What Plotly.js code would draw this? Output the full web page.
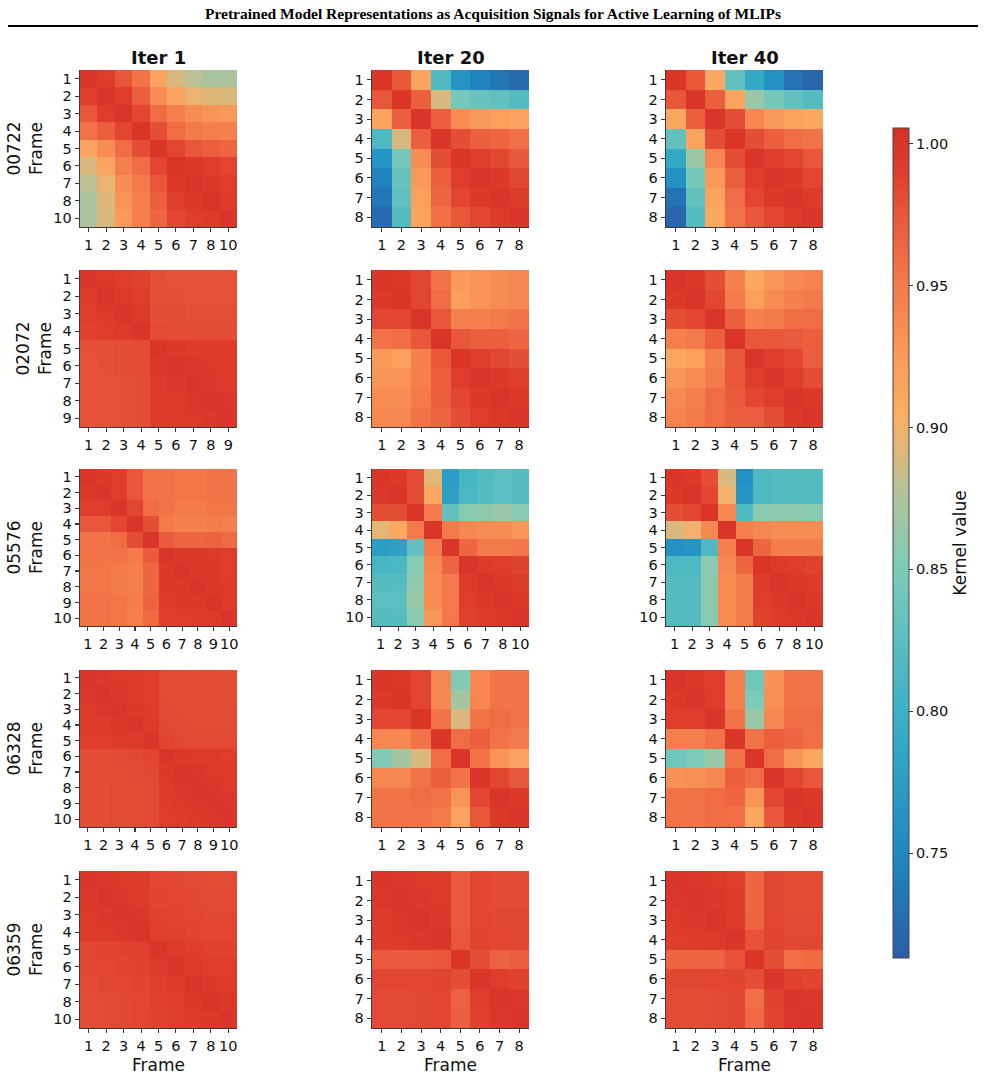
<!DOCTYPE html>
<html>
<head>
<meta charset="utf-8">
<script src="https://cdn.plot.ly/plotly-3.0.1.min.js"></script>
<style>
  html, body { margin: 0; padding: 0; background: #fff; }
  #chart { width: 985px; height: 1075px; }
</style>
</head>
<body>
<div id="chart"></div>
<script>
// ---- Frame labels per system / iteration ----
const samples = ['00722', '02072', '05576', '06328', '06359'];
const iterations = ['Iter 1', 'Iter 20', 'Iter 40'];

const frames_00722_it1 = ['1','2','3','4','5','6','7','8','10'];
const frames_00722_it20 = ['1','2','3','4','5','6','7','8'];
const frames_00722_it40 = ['1','2','3','4','5','6','7','8'];
const frames_02072_it1 = ['1','2','3','4','5','6','7','8','9'];
const frames_02072_it20 = ['1','2','3','4','5','6','7','8'];
const frames_02072_it40 = ['1','2','3','4','5','6','7','8'];
const frames_05576_it1 = ['1','2','3','4','5','6','7','8','9','10'];
const frames_05576_it20 = ['1','2','3','4','5','6','7','8','10'];
const frames_05576_it40 = ['1','2','3','4','5','6','7','8','10'];
const frames_06328_it1 = ['1','2','3','4','5','6','7','8','9','10'];
const frames_06328_it20 = ['1','2','3','4','5','6','7','8'];
const frames_06328_it40 = ['1','2','3','4','5','6','7','8'];
const frames_06359_it1 = ['1','2','3','4','5','6','7','8','10'];
const frames_06359_it20 = ['1','2','3','4','5','6','7','8'];
const frames_06359_it40 = ['1','2','3','4','5','6','7','8'];

// ---- Kernel matrices ----
const kernel_00722_it1 = [
  [1.000,0.990,0.975,0.955,0.915,0.890,0.880,0.872,0.873],
  [0.990,1.000,0.990,0.970,0.935,0.915,0.898,0.892,0.891],
  [0.975,0.990,1.000,0.985,0.960,0.945,0.935,0.930,0.925],
  [0.955,0.970,0.985,1.000,0.980,0.960,0.950,0.945,0.945],
  [0.915,0.935,0.960,0.980,1.000,0.985,0.975,0.970,0.965],
  [0.890,0.915,0.945,0.960,0.985,1.000,0.995,0.990,0.985],
  [0.880,0.898,0.935,0.950,0.975,0.995,1.000,0.995,0.990],
  [0.872,0.892,0.930,0.945,0.970,0.990,0.995,1.000,0.993],
  [0.873,0.891,0.925,0.945,0.965,0.985,0.990,0.993,1.000]
];
const kernel_00722_it20 = [
  [1.000,0.975,0.915,0.815,0.765,0.745,0.735,0.725],
  [0.975,1.000,0.970,0.890,0.845,0.835,0.830,0.820],
  [0.915,0.970,1.000,0.970,0.935,0.925,0.920,0.915],
  [0.815,0.890,0.970,1.000,0.980,0.970,0.965,0.958],
  [0.765,0.845,0.935,0.980,1.000,0.990,0.985,0.975],
  [0.745,0.835,0.925,0.970,0.990,1.000,0.995,0.985],
  [0.735,0.830,0.920,0.965,0.985,0.995,1.000,0.993],
  [0.725,0.820,0.915,0.958,0.975,0.985,0.993,1.000]
];
const kernel_00722_it40 = [
  [1.000,0.975,0.910,0.830,0.790,0.760,0.730,0.720],
  [0.975,1.000,0.970,0.915,0.865,0.845,0.830,0.820],
  [0.910,0.970,1.000,0.980,0.940,0.925,0.915,0.910],
  [0.830,0.915,0.980,1.000,0.980,0.970,0.960,0.955],
  [0.790,0.865,0.940,0.980,1.000,0.990,0.985,0.975],
  [0.760,0.845,0.925,0.970,0.990,1.000,0.995,0.985],
  [0.730,0.830,0.915,0.960,0.985,0.995,1.000,0.993],
  [0.720,0.820,0.910,0.955,0.975,0.985,0.993,1.000]
];
const kernel_02072_it1 = [
  [1.000,0.994,0.991,0.988,0.979,0.978,0.978,0.978,0.978],
  [0.994,1.000,0.994,0.990,0.979,0.979,0.978,0.978,0.978],
  [0.991,0.994,1.000,0.994,0.980,0.980,0.979,0.979,0.979],
  [0.988,0.990,0.994,1.000,0.982,0.981,0.980,0.980,0.980],
  [0.979,0.979,0.980,0.982,1.000,0.995,0.993,0.993,0.992],
  [0.978,0.979,0.980,0.981,0.995,1.000,0.996,0.994,0.993],
  [0.978,0.978,0.979,0.980,0.993,0.996,1.000,0.996,0.994],
  [0.978,0.978,0.979,0.980,0.993,0.994,0.996,1.000,0.996],
  [0.978,0.978,0.979,0.980,0.992,0.993,0.994,0.996,1.000]
];
const kernel_02072_it20 = [
  [1.000,0.995,0.985,0.955,0.925,0.930,0.935,0.940],
  [0.995,1.000,0.985,0.960,0.920,0.930,0.935,0.940],
  [0.985,0.985,1.000,0.975,0.945,0.945,0.950,0.955],
  [0.955,0.960,0.975,1.000,0.975,0.970,0.970,0.965],
  [0.925,0.920,0.945,0.975,1.000,0.990,0.985,0.980],
  [0.930,0.930,0.945,0.970,0.990,1.000,0.995,0.990],
  [0.935,0.935,0.950,0.970,0.985,0.995,1.000,0.995],
  [0.940,0.940,0.955,0.965,0.980,0.990,0.995,1.000]
];
const kernel_02072_it40 = [
  [1.000,0.995,0.980,0.945,0.910,0.928,0.938,0.943],
  [0.995,1.000,0.985,0.950,0.920,0.935,0.945,0.950],
  [0.980,0.985,1.000,0.970,0.945,0.950,0.960,0.960],
  [0.945,0.950,0.970,1.000,0.975,0.975,0.972,0.970],
  [0.910,0.920,0.945,0.975,1.000,0.990,0.985,0.970],
  [0.928,0.935,0.950,0.975,0.990,1.000,0.990,0.980],
  [0.938,0.945,0.960,0.972,0.985,0.990,1.000,0.995],
  [0.943,0.950,0.960,0.970,0.970,0.980,0.995,1.000]
];
const kernel_05576_it1 = [
  [1.000,0.995,0.990,0.975,0.955,0.955,0.953,0.953,0.955,0.955],
  [0.995,1.000,0.990,0.975,0.955,0.955,0.953,0.953,0.955,0.955],
  [0.990,0.990,1.000,0.985,0.960,0.955,0.950,0.950,0.953,0.953],
  [0.975,0.975,0.985,1.000,0.980,0.950,0.945,0.945,0.948,0.945],
  [0.955,0.955,0.960,0.980,1.000,0.972,0.965,0.965,0.968,0.962],
  [0.955,0.955,0.955,0.950,0.972,1.000,0.995,0.995,0.993,0.990],
  [0.953,0.953,0.950,0.945,0.965,0.995,1.000,0.995,0.995,0.990],
  [0.953,0.953,0.950,0.945,0.965,0.995,0.995,1.000,0.995,0.993],
  [0.955,0.955,0.953,0.948,0.968,0.993,0.995,0.995,1.000,0.993],
  [0.955,0.955,0.953,0.945,0.962,0.990,0.990,0.993,0.993,1.000]
];
const kernel_05576_it20 = [
  [1.000,0.995,0.980,0.895,0.775,0.810,0.820,0.825,0.820],
  [0.995,1.000,0.980,0.910,0.780,0.812,0.822,0.825,0.822],
  [0.980,0.980,1.000,0.950,0.830,0.855,0.860,0.865,0.855],
  [0.895,0.910,0.950,1.000,0.950,0.940,0.935,0.935,0.928],
  [0.775,0.780,0.830,0.950,1.000,0.965,0.950,0.950,0.952],
  [0.810,0.812,0.855,0.940,0.965,1.000,0.992,0.990,0.987],
  [0.820,0.822,0.860,0.935,0.950,0.992,1.000,0.995,0.992],
  [0.825,0.825,0.865,0.935,0.950,0.990,0.995,1.000,0.995],
  [0.820,0.822,0.855,0.928,0.952,0.987,0.992,0.995,1.000]
];
const kernel_05576_it40 = [
  [1.000,0.995,0.980,0.890,0.760,0.815,0.820,0.820,0.820],
  [0.995,1.000,0.985,0.900,0.765,0.815,0.820,0.820,0.820],
  [0.980,0.985,1.000,0.940,0.815,0.858,0.858,0.858,0.855],
  [0.890,0.900,0.940,1.000,0.945,0.940,0.935,0.935,0.935],
  [0.760,0.765,0.815,0.945,1.000,0.965,0.947,0.947,0.948],
  [0.815,0.815,0.858,0.940,0.965,1.000,0.992,0.990,0.987],
  [0.820,0.820,0.858,0.935,0.947,0.992,1.000,0.995,0.992],
  [0.820,0.820,0.858,0.935,0.947,0.990,0.995,1.000,0.995],
  [0.820,0.820,0.855,0.935,0.948,0.987,0.992,0.995,1.000]
];
const kernel_06328_it1 = [
  [1.000,0.996,0.994,0.992,0.990,0.982,0.982,0.981,0.981,0.981],
  [0.996,1.000,0.996,0.993,0.991,0.982,0.982,0.981,0.981,0.981],
  [0.994,0.996,1.000,0.995,0.992,0.983,0.982,0.982,0.982,0.982],
  [0.992,0.993,0.995,1.000,0.994,0.984,0.983,0.982,0.982,0.982],
  [0.990,0.991,0.992,0.994,1.000,0.986,0.984,0.983,0.983,0.983],
  [0.982,0.982,0.983,0.984,0.986,1.000,0.995,0.993,0.992,0.991],
  [0.982,0.982,0.982,0.983,0.984,0.995,1.000,0.996,0.994,0.993],
  [0.981,0.981,0.982,0.982,0.983,0.993,0.996,1.000,0.996,0.994],
  [0.981,0.981,0.982,0.982,0.983,0.992,0.994,0.996,1.000,0.996],
  [0.981,0.981,0.982,0.982,0.983,0.991,0.993,0.994,0.996,1.000]
];
const kernel_06328_it20 = [
  [1.000,0.995,0.985,0.940,0.852,0.940,0.955,0.955],
  [0.995,1.000,0.985,0.940,0.870,0.940,0.955,0.955],
  [0.985,0.985,1.000,0.955,0.890,0.955,0.960,0.955],
  [0.940,0.940,0.955,1.000,0.960,0.970,0.955,0.950],
  [0.852,0.870,0.890,0.960,1.000,0.955,0.930,0.915],
  [0.940,0.940,0.955,0.970,0.955,1.000,0.985,0.975],
  [0.955,0.955,0.960,0.955,0.930,0.985,1.000,0.995],
  [0.955,0.955,0.955,0.950,0.915,0.975,0.995,1.000]
];
const kernel_06328_it40 = [
  [1.000,0.995,0.990,0.945,0.840,0.932,0.955,0.955],
  [0.995,1.000,0.990,0.945,0.850,0.933,0.955,0.955],
  [0.990,0.990,1.000,0.955,0.865,0.940,0.960,0.960],
  [0.945,0.945,0.955,1.000,0.955,0.970,0.965,0.958],
  [0.840,0.850,0.865,0.955,1.000,0.960,0.930,0.910],
  [0.932,0.933,0.940,0.970,0.960,1.000,0.985,0.975],
  [0.955,0.955,0.960,0.965,0.930,0.985,1.000,0.995],
  [0.955,0.955,0.960,0.958,0.910,0.975,0.995,1.000]
];
const kernel_06359_it1 = [
  [1.000,0.996,0.994,0.992,0.985,0.984,0.983,0.982,0.982],
  [0.996,1.000,0.996,0.994,0.986,0.985,0.984,0.983,0.983],
  [0.994,0.996,1.000,0.996,0.987,0.986,0.985,0.984,0.984],
  [0.992,0.994,0.996,1.000,0.989,0.987,0.986,0.985,0.985],
  [0.985,0.986,0.987,0.989,1.000,0.994,0.990,0.988,0.987],
  [0.984,0.985,0.986,0.987,0.994,1.000,0.994,0.991,0.990],
  [0.983,0.984,0.985,0.986,0.990,0.994,1.000,0.995,0.993],
  [0.982,0.983,0.984,0.985,0.988,0.991,0.995,1.000,0.995],
  [0.982,0.983,0.984,0.985,0.987,0.990,0.993,0.995,1.000]
];
const kernel_06359_it20 = [
  [1.000,0.996,0.994,0.992,0.972,0.985,0.983,0.983],
  [0.996,1.000,0.996,0.994,0.972,0.985,0.983,0.983],
  [0.994,0.996,1.000,0.996,0.973,0.985,0.984,0.984],
  [0.992,0.994,0.996,1.000,0.975,0.986,0.985,0.985],
  [0.972,0.972,0.973,0.975,1.000,0.980,0.968,0.970],
  [0.985,0.985,0.985,0.986,0.980,1.000,0.990,0.988],
  [0.983,0.983,0.984,0.985,0.968,0.990,1.000,0.996],
  [0.983,0.983,0.984,0.985,0.970,0.988,0.996,1.000]
];
const kernel_06359_it40 = [
  [1.000,0.996,0.994,0.990,0.965,0.984,0.982,0.982],
  [0.996,1.000,0.996,0.992,0.965,0.984,0.982,0.982],
  [0.994,0.996,1.000,0.994,0.966,0.985,0.983,0.983],
  [0.990,0.992,0.994,1.000,0.978,0.986,0.984,0.984],
  [0.965,0.965,0.966,0.978,1.000,0.980,0.958,0.962],
  [0.984,0.984,0.985,0.986,0.980,1.000,0.988,0.986],
  [0.982,0.982,0.983,0.984,0.958,0.988,1.000,0.996],
  [0.982,0.982,0.983,0.984,0.962,0.986,0.996,1.000]
];

// Colour range of the shared kernel-value scale
const zMin = 0.713;
const zMax = 1.0056;
const colorStops = [
  [0.713, '#2b5ca7'],
  [0.750, '#1d89c1'],
  [0.800, '#3ab1c7'],
  [0.850, '#7ccbb8'],
  [0.875, '#aec49c'],
  [0.890, '#d8b87e'],
  [0.905, '#fbae63'],
  [0.925, '#fa9a5a'],
  [0.950, '#f47a4b'],
  [0.975, '#e9573b'],
  [0.990, '#de3d2d'],
  [1.0056, '#d73027']
];
const colorscale = colorStops.map(([v, c]) => [(v - zMin) / (zMax - zMin), c]);

// grid of panels: [sample][iteration]
const grid = [
  [[kernel_00722_it1, frames_00722_it1], [kernel_00722_it20, frames_00722_it20], [kernel_00722_it40, frames_00722_it40]],
  [[kernel_02072_it1, frames_02072_it1], [kernel_02072_it20, frames_02072_it20], [kernel_02072_it40, frames_02072_it40]],
  [[kernel_05576_it1, frames_05576_it1], [kernel_05576_it20, frames_05576_it20], [kernel_05576_it40, frames_05576_it40]],
  [[kernel_06328_it1, frames_06328_it1], [kernel_06328_it20, frames_06328_it20], [kernel_06328_it40, frames_06328_it40]],
  [[kernel_06359_it1, frames_06359_it1], [kernel_06359_it20, frames_06359_it20], [kernel_06359_it40, frames_06359_it40]]
];

// layout geometry (pixels)
const W = 985, H = 1075;
const colX = [[80, 237], [372, 529], [666, 823]];
const rowY = [[70, 227], [270, 427], [469, 626], [670, 827], [871, 1028]];
const px = x => x / W;
const py = y => 1 - y / H;

const FONT = 'DejaVu Sans, Arial, sans-serif';
const axisStyle = {
  type: 'category',
  showline: true,
  linecolor: '#3a3a3a',
  linewidth: 1.3,
  ticks: 'outside',
  ticklen: 4,
  tickwidth: 1.1,
  tickcolor: '#3a3a3a',
  tickfont: { family: FONT, size: 14.5, color: '#111' },
  tickangle: 0,
  showgrid: false,
  zeroline: false,
  fixedrange: true
};

const data = [];
const layout = {
  width: W,
  height: H,
  margin: { l: 0, r: 0, t: 0, b: 0 },
  paper_bgcolor: '#fff',
  plot_bgcolor: '#fff',
  font: { family: FONT, color: '#111' },
  showlegend: false,
  annotations: [],
  shapes: []
};

let n = 0;
grid.forEach((row, r) => {
  row.forEach(([z, frames], c) => {
    n += 1;
    const xa = n === 1 ? 'x' : 'x' + n;
    const ya = n === 1 ? 'y' : 'y' + n;
    const trace = {
      type: 'heatmap',
      z: z,
      x: frames,
      y: frames,
      xaxis: xa,
      yaxis: ya,
      zmin: zMin,
      zmax: zMax,
      colorscale: colorscale,
      showscale: false,
      hoverinfo: 'x+y+z'
    };
    if (n === 1) {
      trace.showscale = true;
      trace.colorbar = {
        x: px(893),
        xanchor: 'left',
        xpad: 0,
        y: py(543),
        yanchor: 'middle',
        ypad: 0,
        len: 830 / H,
        lenmode: 'fraction',
        thickness: 16,
        thicknessmode: 'pixels',
        outlinewidth: 1,
        outlinecolor: '#444',
        tickvals: [0.75, 0.80, 0.85, 0.90, 0.95, 1.00],
        tickformat: '.2f',
        ticks: 'outside',
        ticklen: 4,
        tickcolor: '#333',
        tickfont: { family: FONT, size: 14.5, color: '#111' },
        title: { text: 'Kernel value', side: 'right', font: { family: FONT, size: 17, color: '#111' } }
      };
    }
    data.push(trace);

    const xKey = n === 1 ? 'xaxis' : 'xaxis' + n;
    const yKey = n === 1 ? 'yaxis' : 'yaxis' + n;
    const xAxis = Object.assign({}, axisStyle, {
      domain: [px(colX[c][0]), px(colX[c][1])],
      anchor: ya,
      categoryorder: 'array',
      categoryarray: frames,
      tickmode: 'array',
      tickvals: frames,
      ticktext: frames
    });
    if (r === grid.length - 1) {
      xAxis.title = { text: 'Frame', font: { family: FONT, size: 17, color: '#111' }, standoff: 6 };
    }
    const yAxis = Object.assign({}, axisStyle, {
      domain: [py(rowY[r][1]), py(rowY[r][0])],
      anchor: xa,
      autorange: 'reversed',
      categoryorder: 'array',
      categoryarray: frames,
      tickmode: 'array',
      tickvals: frames,
      ticktext: frames
    });
    if (c === 0) {
      yAxis.title = { text: samples[r] + '<br>Frame', font: { family: FONT, size: 17, color: '#111' }, standoff: 6 };
    }
    layout[xKey] = xAxis;
    layout[yKey] = yAxis;
  });
});

// column headers
iterations.forEach((label, c) => {
  layout.annotations.push({
    xref: 'paper', yref: 'paper',
    x: px((colX[c][0] + colX[c][1]) / 2), y: py(57),
    xanchor: 'center', yanchor: 'middle',
    text: '<b>' + label + '</b>',
    showarrow: false,
    font: { family: FONT, size: 18, color: '#111' }
  });
});

// page heading and rule
layout.annotations.push({
  xref: 'paper', yref: 'paper',
  x: 0.5, y: py(13),
  xanchor: 'center', yanchor: 'middle',
  text: '<b>Pretrained Model Representations as Acquisition Signals for Active Learning of MLIPs</b>',
  showarrow: false,
  font: { family: 'Liberation Serif, Times New Roman, serif', size: 15.5, color: '#000' }
});
layout.shapes.push({
  type: 'line', xref: 'paper', yref: 'paper',
  x0: px(8), x1: px(978), y0: py(26), y1: py(26),
  line: { color: '#000', width: 2 }
});

Plotly.newPlot('chart', data, layout, { displayModeBar: false, staticPlot: true });
</script>
</body>
</html>
